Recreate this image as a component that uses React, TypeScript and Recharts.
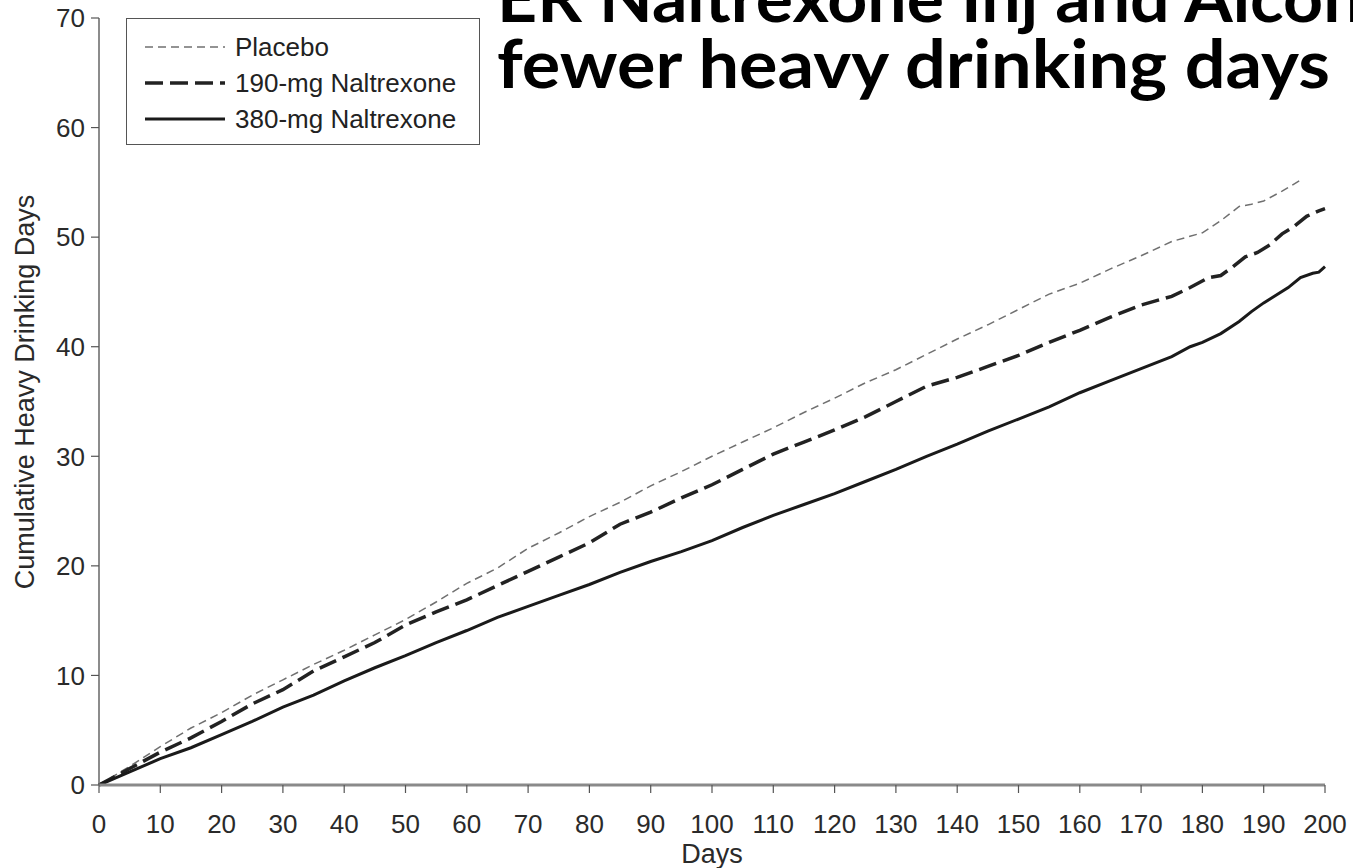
import { LineChart, Line, XAxis, YAxis, Legend, Label } from 'recharts';

const FONT = '"Liberation Sans", Arial, sans-serif';

const dayTicks = [0, 10, 20, 30, 40, 50, 60, 70, 80, 90, 100, 110, 120, 130, 140, 150, 160, 170, 180, 190, 200];
const countTicks = [0, 10, 20, 30, 40, 50, 60, 70];

const placeboDays = [0, 5, 10, 15, 20, 25, 30, 35, 40, 45, 50, 55, 60, 65, 70, 75, 80, 85, 90, 95, 100, 105, 110, 115, 120, 125, 130, 135, 140, 145, 150, 155, 160, 165, 170, 175, 180, 183, 186, 188, 190, 193, 196];
const placeboCounts = [0, 1.7, 3.5, 5.2, 6.6, 8.2, 9.6, 11.0, 12.3, 13.7, 15.1, 16.7, 18.4, 19.8, 21.6, 23.0, 24.5, 25.8, 27.3, 28.6, 30.0, 31.3, 32.6, 34.0, 35.3, 36.7, 37.9, 39.3, 40.7, 42.0, 43.4, 44.8, 45.8, 47.1, 48.3, 49.6, 50.4, 51.5, 52.8, 53.0, 53.3, 54.2, 55.2];

const dose190Days = [0, 5, 10, 15, 20, 25, 30, 35, 40, 45, 50, 55, 60, 65, 70, 75, 80, 85, 90, 95, 100, 105, 110, 115, 120, 125, 130, 135, 140, 145, 150, 155, 160, 165, 170, 175, 178, 181, 183, 185, 187, 189, 191, 193, 195, 197, 199, 200];
const dose190Counts = [0, 1.5, 3.0, 4.3, 5.8, 7.4, 8.7, 10.4, 11.7, 13.0, 14.6, 15.8, 16.9, 18.2, 19.5, 20.8, 22.1, 23.8, 24.9, 26.2, 27.4, 28.8, 30.2, 31.3, 32.4, 33.6, 35.0, 36.4, 37.2, 38.2, 39.2, 40.4, 41.5, 42.7, 43.8, 44.6, 45.4, 46.3, 46.5, 47.3, 48.2, 48.6, 49.3, 50.3, 51.0, 51.9, 52.4, 52.6];

const dose380Days = [0, 5, 10, 15, 20, 25, 30, 35, 40, 45, 50, 55, 60, 65, 70, 75, 80, 85, 90, 95, 100, 105, 110, 115, 120, 125, 130, 135, 140, 145, 150, 155, 160, 165, 170, 175, 178, 180, 183, 186, 188, 190, 192, 194, 196, 198, 199, 200];
const dose380Counts = [0, 1.2, 2.4, 3.4, 4.6, 5.8, 7.1, 8.2, 9.5, 10.7, 11.8, 13.0, 14.1, 15.3, 16.3, 17.3, 18.3, 19.4, 20.4, 21.3, 22.3, 23.5, 24.6, 25.6, 26.6, 27.7, 28.8, 30.0, 31.1, 32.3, 33.4, 34.5, 35.8, 36.9, 38.0, 39.1, 40.0, 40.4, 41.2, 42.3, 43.2, 44.0, 44.7, 45.4, 46.3, 46.7, 46.8, 47.3];

const toPoints = (days: number[], counts: number[]) =>
  days.map((day, i) => ({ day, value: counts[i] }));

const series = [
  { name: 'Placebo', points: toPoints(placeboDays, placeboCounts), stroke: '#707070', width: 1.5, dash: '8 5' },
  { name: '190-mg Naltrexone', points: toPoints(dose190Days, dose190Counts), stroke: '#222', width: 3.5, dash: '18 7' },
  { name: '380-mg Naltrexone', points: toPoints(dose380Days, dose380Counts), stroke: '#1a1a1a', width: 3, dash: undefined },
];

function LegendBox() {
  return (
    <div
      style={{
        border: '1px solid #555',
        width: 354,
        height: 127,
        boxSizing: 'border-box',
        padding: '10px 0 0 18px',
        background: '#fff',
        fontFamily: FONT,
      }}
    >
      {series.map((s) => (
        <div key={s.name} style={{ display: 'flex', alignItems: 'center', height: 36 }}>
          <svg width={80} height={10}>
            <line x1={0} x2={80} y1={5} y2={5} stroke={s.stroke} strokeWidth={s.width} strokeDasharray={s.dash} />
          </svg>
          <span style={{ marginLeft: 10, fontSize: 26, color: '#222' }}>{s.name}</span>
        </div>
      ))}
    </div>
  );
}

export default function App() {
  return (
    <div style={{ position: 'absolute', left: 0, top: 0, width: 1353, height: 868, overflow: 'hidden', background: '#fff' }}>
      <LineChart width={1353} height={868} margin={{ top: 18, right: 28, bottom: 0, left: 0 }}>
        <XAxis
          type="number"
          dataKey="day"
          domain={[0, 200]}
          ticks={dayTicks}
          interval={0}
          height={83}
          tickSize={8}
          tickMargin={22}
          axisLine={{ stroke: '#8a8a8a', strokeWidth: 3 }}
          tickLine={{ stroke: '#555', strokeWidth: 1.2 }}
          tick={{ fill: '#2a2a2a', fontSize: 26, fontFamily: FONT }}
        >
          <Label
            content={() => (
              <text x={712} y={863} textAnchor="middle" fontSize={27} fontFamily={FONT} fill="#2a2a2a">
                Days
              </text>
            )}
          />
        </XAxis>
        <YAxis
          type="number"
          domain={[0, 70]}
          ticks={countTicks}
          interval={0}
          width={99}
          tickSize={8}
          tickMargin={6}
          axisLine={{ stroke: '#666', strokeWidth: 1.5 }}
          tickLine={{ stroke: '#555', strokeWidth: 1.2 }}
          tick={{ fill: '#2a2a2a', fontSize: 26, fontFamily: FONT }}
        >
          <Label
            content={() => (
              <text
                x={34}
                y={392}
                transform="rotate(-90, 34, 392)"
                textAnchor="middle"
                fontSize={27}
                fontFamily={FONT}
                fill="#2a2a2a"
              >
                Cumulative Heavy Drinking Days
              </text>
            )}
          />
        </YAxis>
        <Legend
          layout="vertical"
          align="center"
          verticalAlign="middle"
          content={() => <LegendBox />}
          wrapperStyle={{ left: 126, top: 18, width: 354, height: 127 }}
        />
        {series.map((s) => (
          <Line
            key={s.name}
            data={s.points}
            dataKey="value"
            name={s.name}
            type="linear"
            stroke={s.stroke}
            strokeWidth={s.width}
            strokeDasharray={s.dash}
            dot={false}
            activeDot={false}
            isAnimationActive={false}
          />
        ))}
      </LineChart>
      <svg
        width={1353}
        height={120}
        style={{ position: 'absolute', left: 0, top: 0, pointerEvents: 'none' }}
      >
        <g fontFamily="Lato, 'Open Sans', sans-serif" fontWeight={700} fontSize={66} fill="#000">
          <text x={497} y={22} textLength={923} lengthAdjust="spacingAndGlyphs">
            ER Naltrexone Inj and Alcohol
          </text>
          <text x={497} y={88} textLength={833} lengthAdjust="spacingAndGlyphs">
            fewer heavy drinking days
          </text>
        </g>
      </svg>
    </div>
  );
}
